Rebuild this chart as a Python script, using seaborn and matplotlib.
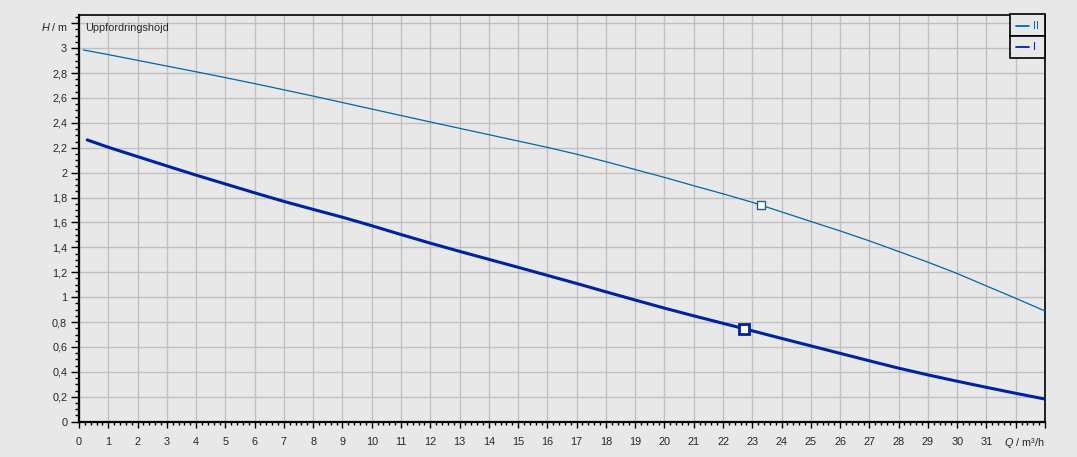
import matplotlib
matplotlib.use("Agg")
import matplotlib.pyplot as plt
import matplotlib.transforms as mtransforms
from matplotlib.ticker import MultipleLocator, FixedLocator
from matplotlib.patches import Rectangle
from matplotlib.lines import Line2D
import seaborn as sns
import pandas as pd

# ---- data ----
q_ii = [0.15, 1, 2, 3, 4, 5, 6, 7, 8, 9, 10, 11, 12, 13, 14, 15, 16, 17, 18, 19,
        20, 21, 22, 23, 24, 25, 26, 27, 28, 29, 30, 31, 32, 33]
h_ii = [2.985, 2.948, 2.902, 2.856, 2.81, 2.763, 2.715, 2.665, 2.615, 2.563, 2.511,
        2.459, 2.407, 2.356, 2.305, 2.254, 2.203, 2.148, 2.088, 2.025, 1.962, 1.895,
        1.83, 1.762, 1.685, 1.608, 1.532, 1.452, 1.367, 1.281, 1.19, 1.09, 0.991, 0.889]
q_i = [0.28, 1, 2, 3, 4, 5, 6, 7, 8, 9, 10, 11, 12, 13, 14, 15, 16, 17, 18, 19,
       20, 21, 22, 23, 24, 25, 26, 27, 28, 29, 30, 31, 32, 33]
h_i = [2.263, 2.204, 2.129, 2.054, 1.98, 1.909, 1.838, 1.769, 1.705, 1.642, 1.574,
       1.503, 1.434, 1.368, 1.304, 1.24, 1.175, 1.11, 1.043, 0.977, 0.912, 0.85,
       0.79, 0.73, 0.669, 0.609, 0.549, 0.489, 0.43, 0.376, 0.325, 0.276, 0.228, 0.182]
op_ii = (23.3, 1.74)
op_i = (22.72, 0.742)
series_names = ["II", "I"]
x_ticklabels = [str(v) for v in range(0, 32)]
y_ticklabels = ["0", "0,2", "0,4", "0,6", "0,8", "1", "1,2", "1,4", "1,6", "1,8",
                "2", "2,2", "2,4", "2,6", "2,8", "3"]
title_text = "Uppfordringshöjd"

# ---- style ----
sns.set_style("white")
plt.rcParams["font.family"] = ["Liberation Sans", "DejaVu Sans"]
plt.rcParams["mathtext.fontset"] = "custom"
plt.rcParams["mathtext.it"] = "Liberation Sans:italic"
plt.rcParams["mathtext.rm"] = "Liberation Sans"

BG = "#e8e8e8"
C_II = "#0068a8"
C_I = "#0022a0"
FS = 7.8

W, H = 1077, 457
L, R, T, B = 79, 1045, 14.5, 421.7
fig = plt.figure(figsize=(W / 100, H / 100), dpi=100, facecolor=BG)
ax = fig.add_axes([L / W, 1 - B / H, (R - L) / W, (B - T) / H])
ax.set_facecolor(BG)

df_ii = pd.DataFrame({"Q": q_ii, "H": h_ii})
df_i = pd.DataFrame({"Q": q_i, "H": h_i})
sns.lineplot(data=df_ii, x="Q", y="H", ax=ax, color=C_II, linewidth=0.9, zorder=3)
sns.lineplot(data=df_i, x="Q", y="H", ax=ax, color=C_I, linewidth=2.2, zorder=3)
ax.plot([op_ii[0]], [op_ii[1]], marker="s", ms=6, mfc="white", mec=C_II, mew=1.0, zorder=4)
ax.plot([op_i[0]], [op_i[1]], marker="s", ms=6.5, mfc="white", mec=C_I, mew=2.0, zorder=4)

ax.set_xlim(0, 33)
ax.set_ylim(0, 3.27)
ax.set_xlabel("")
ax.set_ylabel("")

ax.xaxis.set_major_locator(FixedLocator(list(range(0, 34))))
ax.set_xticklabels(x_ticklabels + ["", ""])
ax.xaxis.set_minor_locator(MultipleLocator(0.2))
yt = [i * 0.2 for i in range(0, 17)]
ax.yaxis.set_major_locator(FixedLocator(yt))
ax.set_yticklabels(y_ticklabels + [""])
ax.yaxis.set_minor_locator(MultipleLocator(0.05))

ax.grid(False, which="minor")
ax.grid(True, which="major", color="#c0c0c0", linewidth=1.0, zorder=0)
ax.set_axisbelow(True)
ax.tick_params(axis="both", which="both", bottom=True, left=True, top=False, right=False,
               direction="out", width=1, color="black")
ax.tick_params(axis="x", which="major", length=4.3, labelsize=FS, pad=7)
ax.tick_params(axis="x", which="minor", length=2.5)
ax.tick_params(axis="y", which="major", length=5.5, labelsize=FS, pad=3)
ax.tick_params(axis="y", which="minor", length=3)

for s in ["left", "bottom"]:
    ax.spines[s].set_linewidth(1.6)
for s in ["top", "right"]:
    ax.spines[s].set_linewidth(1.2)
for s in ax.spines.values():
    s.set_color("black")

trans_x = mtransforms.blended_transform_factory(ax.transData, ax.transAxes)
ax.text(33, -0.036, r"$\it{Q}$ / m³/h", transform=trans_x, ha="right", va="top", fontsize=FS)
trans_y = mtransforms.blended_transform_factory(ax.transAxes, ax.transData)
ax.text(-0.0115, 3.17, r"$\it{H}$ / m", transform=trans_y, ha="right", va="center", fontsize=FS)
ax.text(0.0068, 0.978, title_text, transform=ax.transAxes, ha="left", va="top", fontsize=FS)

# legend: two stacked boxes in the upper-right corner
aw, ah = R - L, B - T
def ax_x(px):
    return (px - L) / aw
def ax_y(py):
    return 1 - (py - T) / ah
box_tops = [14.5, 36.0]
box_bot = [36.0, 57.7]
colors = [C_II, C_I]
for name, c, t, b in zip(series_names, colors, box_tops, box_bot):
    ax.add_patch(Rectangle((ax_x(1010), ax_y(b)), ax_x(1045) - ax_x(1010), ax_y(t) - ax_y(b),
                           transform=ax.transAxes, facecolor=BG, edgecolor="black",
                           linewidth=1.2, zorder=5, clip_on=False))
    ym = ax_y((t + b) / 2 + 0.5)
    ax.add_line(Line2D([ax_x(1016.3), ax_x(1029)], [ym, ym], transform=ax.transAxes,
                       color=c, linewidth=1.3, zorder=6, clip_on=False))
    ax.text(ax_x(1033), ym, name, transform=ax.transAxes, ha="left", va="center",
            fontsize=FS, color=c, zorder=6)

fig.savefig("out.png", dpi=100, facecolor=BG)
